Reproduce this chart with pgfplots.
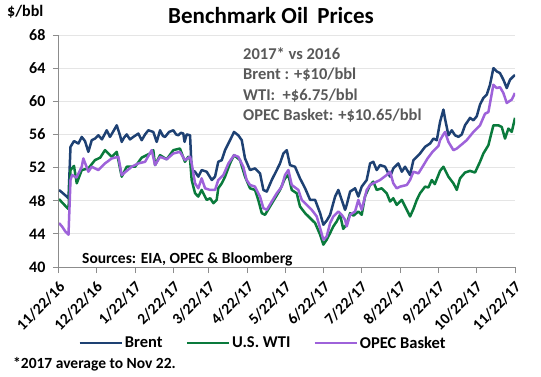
\documentclass[border=0pt]{standalone}
\usepackage{pgfplots}
\pgfplotsset{compat=1.18}
\usepackage{fontspec}
\setmainfont{Carlito}
\definecolor{brentc}{RGB}{30,65,115}
\definecolor{wtic}{RGB}{10,122,60}
\definecolor{opecc}{RGB}{158,98,218}
\definecolor{anngray}{RGB}{89,89,89}
\definecolor{axgray}{RGB}{140,140,140}
\begin{document}
\begin{tikzpicture}
\useasboundingbox (0,0) rectangle (541pt,-377pt);
\begin{axis}[
  at={(59pt,-267pt)}, anchor=south west,
  scale only axis, width=456pt, height=232pt,
  xmin=0, xmax=365, ymin=40, ymax=68,
  ytick={40,44,...,68},
  xtick={0,30,61,92,120,151,181,212,242,273,304,334,365},
  xticklabels={11/22/16,12/22/16,1/22/17,2/22/17,3/22/17,4/22/17,5/22/17,6/22/17,7/22/17,8/22/17,9/22/17,10/22/17,11/22/17},
  /pgf/number format/assume math mode=true,
  x tick label style={yshift=-6pt, xshift=-1pt, rotate=45, anchor=north east, font=\fontsize{15.5}{17}\selectfont\bfseries, inner sep=1pt},
  y tick label style={xshift=-4pt, font=\fontsize{16}{18}\selectfont\bfseries},
  axis x line*=bottom, axis y line*=left,
  axis line style={axgray, line width=1pt},
  tick style={axgray, line width=1pt},
  tick align=outside, major tick length=6pt,
  ymajorgrids, grid style={black!10, line width=0.8pt},
  legend columns=3,
  legend style={at={(0.042,-0.3276)}, anchor=west, draw=none, fill=none, inner sep=0pt,
    font=\fontsize{16.5}{18}\selectfont\bfseries,
    nodes={inner sep=2pt},
    /tikz/every even column/.append style={column sep=21pt}},
  legend image code/.code={\draw[#1] (0pt,0pt) -- (42pt,0pt);},
  every axis plot/.append style={line width=2.5pt, line join=round},
]
\addplot[brentc, mark=none] coordinates {
(0,49.3)(2.4,49.0)(6.2,48.5)(7.6,48.3)(9.2,54.5)(12,55.2)(15.5,54.9)(18.2,55.7)(20.8,55.2)(23.5,53.9)
(26.2,55.3)(28.8,55.5)(31.5,55.9)(34.4,55.4)(38.2,56.5)(40.8,55.7)(43.2,56.3)(46.2,57.1)(48.8,55.9)(50.2,55.1)
(52,55.6)(54.2,56.0)(56.8,55.4)(59.5,55.7)(63.5,56.1)(66.2,55.3)(68.9,56.0)(71.5,56.5)(75.5,56.3)(78.2,55.1)
(80.9,56.5)(83.3,55.8)(84.9,55.7)(88.1,56.3)(91.5,56.5)(93.7,56.0)(95.5,55.9)(97.7,56.2)(99.5,56.1)(100.5,55.1)
(102.2,56.0)(104.9,55.9)(106.2,51.7)(108.9,51.5)(111.5,50.9)(114.2,51.7)(118.2,51.5)(122.3,50.5)(124.9,50.9)(127.5,52.7)
(130.3,52.9)(132.9,54.1)(136.9,55.3)(140.1,56.3)(143.5,55.9)(146.3,55.3)(148.9,53.1)(152.9,51.7)(156.9,51.9)(160.9,51.3)
(163.6,49.3)(166.3,49.1)(170.3,50.5)(174.3,51.7)(176.9,52.5)(179.6,53.7)(182.3,54.1)(184.9,52.3)(188.9,52.1)(192.9,50.7)
(197,49.5)(201,48.1)(205,48.1)(209,46.5)(211.6,45.1)(214.3,45.6)(217,46.3)(221,48.5)(223.6,49.3)(226.3,48.1)
(229,46.9)(230.3,47.5)(233,49.1)(237,49.5)(239.6,48.5)(242.3,49.7)(246.3,50.5)(249,52.5)(251.6,52.7)(254.3,51.7)
(257,52.3)(261,52.1)(265,50.9)(267.6,51.9)(271.6,52.5)(274.4,51.5)(277,52.1)(281,51.1)(283.7,52.9)(286.4,53.3)
(289,53.7)(293,54.5)(297,54.9)(299.7,55.5)(302.4,55.3)(305,57.5)(307.7,59.0)(309,57.9)(311.7,55.9)(314.4,56.5)
(317,55.9)(319.7,55.7)(322.4,56.0)(325,57.1)(329,58.0)(331.7,57.7)(334.4,58.2)(337,59.6)(339.7,60.4)(342.4,60.8)
(345,62.0)(347.7,64.0)(350.4,63.6)(353,63.4)(355.7,62.6)(358.4,61.6)(361,62.6)(365,63.2)
};
\addlegendentry{Brent}
\addplot[wtic, mark=none] coordinates {
(0,48.2)(2.4,47.8)(6.2,47.2)(7.6,47.0)(9.2,51.7)(12,52.2)(14.2,50.1)(18.2,51.7)(23.5,51.9)(28.8,52.9)
(33,53.2)(36.8,54.1)(42.2,53.3)(46.2,53.9)(50.2,50.9)(54.2,52.1)(60.9,52.1)(66.2,53.2)(72.9,53.7)(75.5,54.1)
(76.9,52.3)(80.9,53.5)(86.2,53.0)(91.5,54.1)(96.8,54.3)(100.8,52.7)(103.5,53.3)(104.9,53.0)(106.2,50.5)(108.9,48.9)
(111.5,48.5)(114.2,49.3)(118.2,48.1)(121,48.3)(123.6,47.7)(126.2,48.1)(127.5,49.5)(130.3,50.1)(132.9,50.9)(136.9,52.5)
(140.1,53.5)(144.9,52.9)(148.9,50.9)(152.9,49.5)(156.9,49.3)(159.5,48.1)(162.3,46.5)(164.9,46.3)(168.9,47.3)(172.9,48.3)
(176.9,49.3)(180.9,50.7)(183.6,51.1)(186.3,49.3)(190.3,48.9)(192.9,47.3)(197,46.5)(201,45.9)(205,45.3)(209,43.9)
(211.6,42.7)(214.3,43.3)(217,44.1)(219.6,44.9)(222.3,45.5)(225,46.3)(227.5,44.6)(229,44.9)(230.3,45.2)(233,46.5)
(235.7,46.2)(239.6,46.7)(242.3,46.3)(244.9,48.5)(249,49.9)(251.6,50.3)(254.3,49.3)(258.3,49.5)(262.3,48.9)(265,47.9)
(267.6,48.3)(270.3,47.5)(274.4,48.1)(278.4,46.9)(281,46.1)(283.7,47.0)(286.4,48.1)(289,48.9)(293,49.7)(295.7,49.6)
(298.4,50.5)(300.8,50.0)(303.7,51.1)(305,51.6)(307.7,52.1)(311.7,50.9)(315.7,50.1)(318.4,49.3)(321,50.7)(325,51.4)
(329,51.6)(333,51.4)(337,52.7)(339.7,53.7)(343.7,54.7)(347.7,57.1)(351.7,57.1)(354.4,56.9)(357,55.5)(359.7,56.7)
(362.4,56.3)(365,58.0)
};
\addlegendentry{U.S. WTI}
\addplot[opecc, mark=none] coordinates {
(0,45.3)(2.4,44.9)(5,44.3)(7.6,43.9)(9.2,50.5)(10.5,51.1)(14,50.8)(18.2,52.1)(19.5,53.1)(23.5,51.5)
(26.2,52.1)(31.5,51.7)(36.8,52.5)(42.2,53.1)(47.5,53.3)(50.2,51.1)(58.2,52.1)(63.5,52.5)(68.9,52.7)(74.2,54.1)
(76.9,52.3)(80.9,53.3)(86.2,53.0)(91.5,53.7)(96.8,53.9)(100.8,52.9)(104.9,53.3)(106.2,52.5)(108.9,50.1)(111.5,49.5)
(114.2,50.7)(116.9,49.5)(120.9,49.3)(124.9,49.3)(127.5,50.5)(131.6,51.1)(135.6,52.5)(140.1,53.5)(143.5,53.3)(147.5,52.1)
(150.2,50.5)(152.9,49.9)(156.9,49.7)(160.9,48.5)(163.6,47.1)(166.3,46.9)(170.3,47.9)(174.3,48.9)(178.3,49.7)(180.9,51.1)
(183.6,51.7)(186.3,49.9)(191.6,49.3)(194.3,48.1)(198.3,47.5)(202.3,46.9)(206.3,46.1)(209,44.7)(211.6,43.3)(214.3,43.7)
(217,45.3)(219.6,46.1)(223.6,46.7)(226.3,46.3)(229,45.7)(230.3,44.9)(233,46.3)(237,46.7)(239.6,48.1)(242.3,46.9)
(246.3,49.3)(249,49.9)(251.6,50.1)(257,50.5)(262.3,51.1)(265,51.5)(267.6,50.1)(270.3,49.5)(273,49.7)(278.4,49.9)
(281,50.5)(283.7,51.5)(287.7,51.3)(291,52.1)(295,53.1)(299,53.9)(303.7,54.6)(305,55.3)(307.7,56.0)(309,56.3)
(311.7,55.1)(315.7,54.1)(318.4,54.3)(322.4,54.8)(326.3,55.3)(331.7,56.3)(337,57.1)(341,58.5)(343.7,58.7)(347.7,62.0)
(350.4,61.6)(353,61.7)(355.7,61.0)(358.4,59.8)(362.4,60.2)(365,61.0)
};
\addlegendentry{OPEC Basket}
\end{axis}
\node[anchor=base west, inner sep=0pt, font=\fontsize{16}{18}\selectfont\bfseries] at (7pt,-17pt) {\$/bbl};
\node[anchor=base, inner sep=0pt, font=\fontsize{23}{26}\selectfont\bfseries] at (271pt,-24pt) {Benchmark Oil\, Prices};
\node[anchor=north west, inner sep=0pt, align=left, text=anngray, font=\fontsize{16.5}{20.5}\selectfont\bfseries] at (243pt,-47pt)
  {2017* vs 2016\\Brent : +\$10/bbl\\WTI:\ \ +\$6.75/bbl\\OPEC Basket: +\$10.65/bbl};
\node[anchor=base west, inner sep=0pt, font=\fontsize{15.5}{18}\selectfont\bfseries] at (82pt,-263pt) {Sources: EIA, OPEC \& Bloomberg};
\node[anchor=base west, inner sep=0pt, font=\fontsize{15.5}{17}\selectfont\bfseries] at (13pt,-368pt) {*2017 average to Nov 22.};
\end{tikzpicture}
\end{document}
